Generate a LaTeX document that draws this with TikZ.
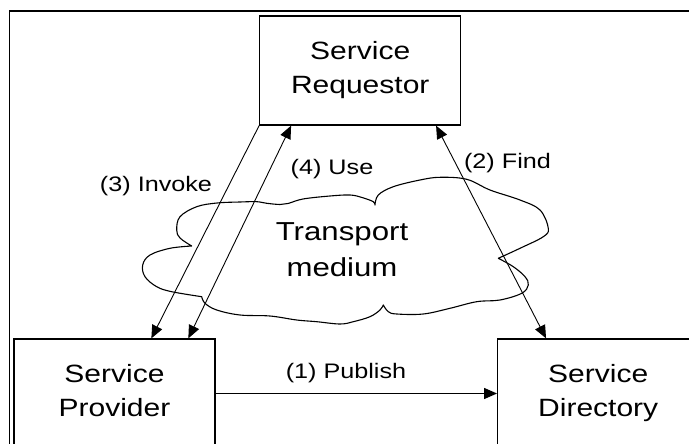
\documentclass[tikz,border=0pt]{standalone}
\usepackage{fontspec}
\setmainfont{Liberation Sans}
\newfontfamily\boxfont{Liberation Sans}[FakeStretch=1.2]
\newfontfamily\lblfont{Liberation Sans}[FakeStretch=1.2]
\usetikzlibrary{arrows.meta}

\tikzset{
  role/.style={draw, line width=1.3pt, minimum width=201pt, minimum height=109pt,
    inner sep=0pt, align=center, font=\boxfont\fontsize{25}{34}\selectfont},
  flow/.style={line width=0.9pt, -{Triangle[length=13pt,width=11pt]}},
  biflow/.style={line width=0.9pt, {Triangle[length=13pt,width=11pt]}-{Triangle[length=13pt,width=11pt]}},
  flowlabel/.style={anchor=base, inner sep=0pt, font=\lblfont\fontsize{21}{25}\selectfont},
  cloudline/.style={line width=1.1pt, line join=round},
  smoothpart/.style={smooth, tension=0.6}
}
% keeps the lower line of a box label at the same depth in every box
\newcommand{\lowline}[1]{#1\vphantom{y}}

\begin{document}
\begin{tikzpicture}[x=1pt, y=-1pt]
\useasboundingbox (0,0) rectangle (689,444);
\fill[white] (0,0) rectangle (689,444);
\begin{scope}
\clip (0,0) rectangle (689,444);

% outer frame
\draw[line width=1.3pt] (9.5,11) rectangle (720,480);

% the three roles
\node[role] (req)  at (360.25,70.5) {Service\\\lowline{Requestor}};
\node[role] (prov) at (114.5,393.5) {Service\\\lowline{Provider}};
\node[role] (dir)  at (598.2,393.5) {Service\\\lowline{Directory}};

% transport medium cloud
\draw[cloudline]
  plot[smoothpart] coordinates {(191.7,246) (180,238) (176.7,230) (180,216.7) (196.7,206.7) (217,203) (240,202) (256.7,201.7) (266.7,203.3) (280,204.5) (288,203.5) (303,199) (330,196) (350,195) (362,197.5) (373.3,201.7) (375,205)}
  -- plot[smoothpart] coordinates {(375,205) (378.3,195) (393.3,186.7) (420,180) (440,177.3) (466.7,179.3) (490,190) (520,200) (540,210) (548.3,228.3) (543.3,236.7) (520,248.3) (498.3,258.3)}
  -- plot[smoothpart] coordinates {(498.3,258.3) (513.3,266.7) (525,276.7) (528.3,285) (521.7,293.3) (500,300) (476.7,301.7) (450,308.3) (423.3,314) (396.7,314) (388.3,311.7) (383.3,305)}
  -- plot[smoothpart] coordinates {(383.3,305) (380,310) (370,316.7) (353.3,321.7) (340,324) (316.7,321.7) (296.7,320) (270,316) (240,315) (216.7,310) (205,303.3) (201.7,296.7)}
  -- plot[smoothpart] coordinates {(201.7,296.7) (171.7,291.7) (156.7,286.7) (145,276.7) (142.7,265) (150,255) (170,248.3) (191.7,246)}
  -- cycle;
\node[align=center, inner sep=0pt, font=\boxfont\fontsize{26}{36}\selectfont] (medium) at (342,249.5) {Transport\\medium};

% interactions
\draw[flow] (req.south west) -- ([xshift=138pt]prov.north west);
\draw[biflow] ([xshift=175pt]prov.north west) -- ([xshift=32pt]req.south west);
\draw[biflow] ([xshift=177pt]req.south west) -- ([xshift=49pt]dir.north west);
\draw[flow, line width=1.3pt] (prov.east) -- (dir.west);

% interaction labels
\node[flowlabel] (invoke)  at (156,191)   {(3) Invoke};
\node[flowlabel] (use)     at (332,175)   {(4) Use};
\node[flowlabel] (find)    at (507.5,168) {(2) Find};
\node[flowlabel] (publish) at (346,378)   {(1) Publish};
\end{scope}
\end{tikzpicture}
\end{document}
